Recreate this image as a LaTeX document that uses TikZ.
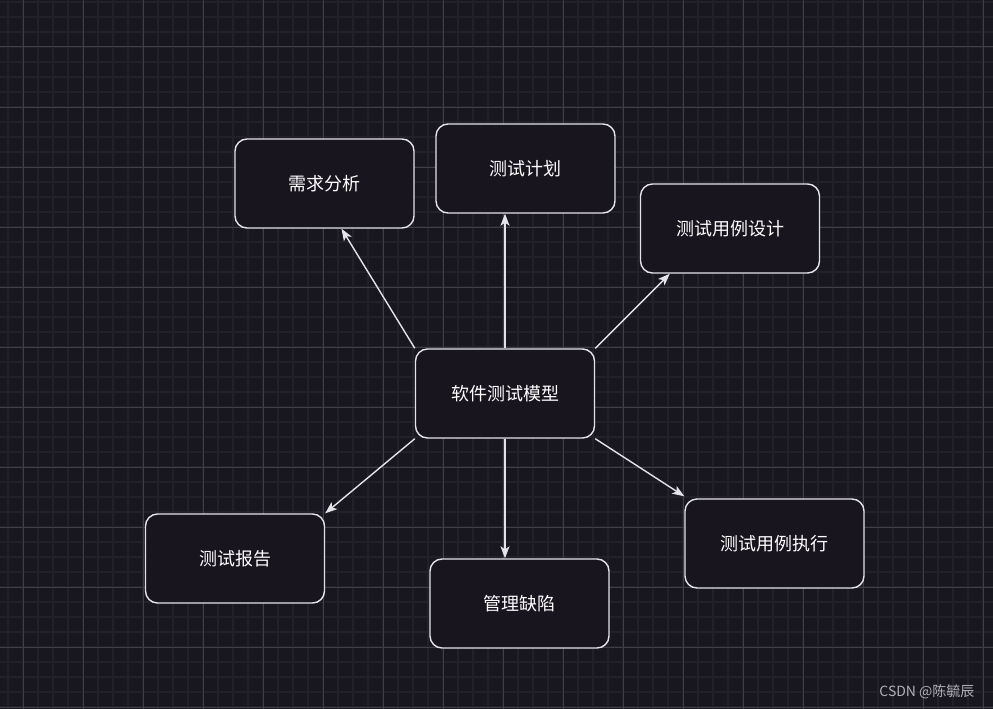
\documentclass[tikz,border=0pt]{standalone}
\usepackage{fontspec}
\setmainfont{Noto Sans CJK SC}
\usepackage{xcolor}
\usepackage{tikz}
\usetikzlibrary{arrows, arrows.meta, calc}

\definecolor{bgcol}{RGB}{24,22,30}
\definecolor{minorcol}{RGB}{34,32,41}
\definecolor{majorcol}{RGB}{64,62,74}
\definecolor{boxfill}{RGB}{24,21,31}
\definecolor{edgecol}{RGB}{228,228,232}
\definecolor{markcol}{RGB}{175,175,180}

\begin{document}
\begin{tikzpicture}[x=1pt, y=-1pt,
  stagebox/.style={draw=edgecol, line width=1.4pt, fill=boxfill, rounded corners=12pt,
    minimum width=179pt, minimum height=89pt, text=white,
    font=\fontsize{18}{21}\selectfont},
  flow/.style={draw=edgecol, line width=1.4pt, -{Stealth[length=12pt, width=9pt, inset=3pt]}}]
\useasboundingbox (0,0) rectangle (993,709);
\fill[bgcol] (0,0) rectangle (993,709);
% background grid
\begin{scope}[shift={(8,2)}]
\draw[step=15pt, minorcol, line width=1.2pt] (-8,-2) grid (985,707);
\end{scope}
\begin{scope}[shift={(23,47)}]
\draw[step=60pt, majorcol, line width=1pt] (-23,-47) grid (970,662);
\end{scope}

% stages
\node[stagebox] (core)   at (505,393.5)   {软件测试模型};
\node[stagebox] (req)    at (324.5,183.5) {需求分析};
\node[stagebox] (plan)   at (525.5,168.5) {测试计划};
\node[stagebox] (design) at (730,228.5)   {测试用例设计};
\node[stagebox] (report) at (235,558.5)   {测试报告};
\node[stagebox] (defect) at (519.5,603.5) {管理缺陷};
\node[stagebox] (exec)   at (774.5,543.5) {测试用例执行};

% arrows out of the model
\draw[flow] (core.north west) -- ([xshift=17pt]req.south);
\draw[flow] (core.north) -- (core.north |- plan.south);
\draw[flow] (core.north east) -- ([xshift=30pt]design.south west);
\draw[flow] (core.south west) -- (report.north east);
\draw[flow] (core.south) -- (core.south |- defect.north);
\draw[flow] (core.south east) -- ([yshift=2pt]exec.north west);

\node[text=markcol, anchor=east, font=\fontsize{14}{16}\selectfont] (mark) at (978,692) {CSDN @陈毓辰};
\end{tikzpicture}
\end{document}
